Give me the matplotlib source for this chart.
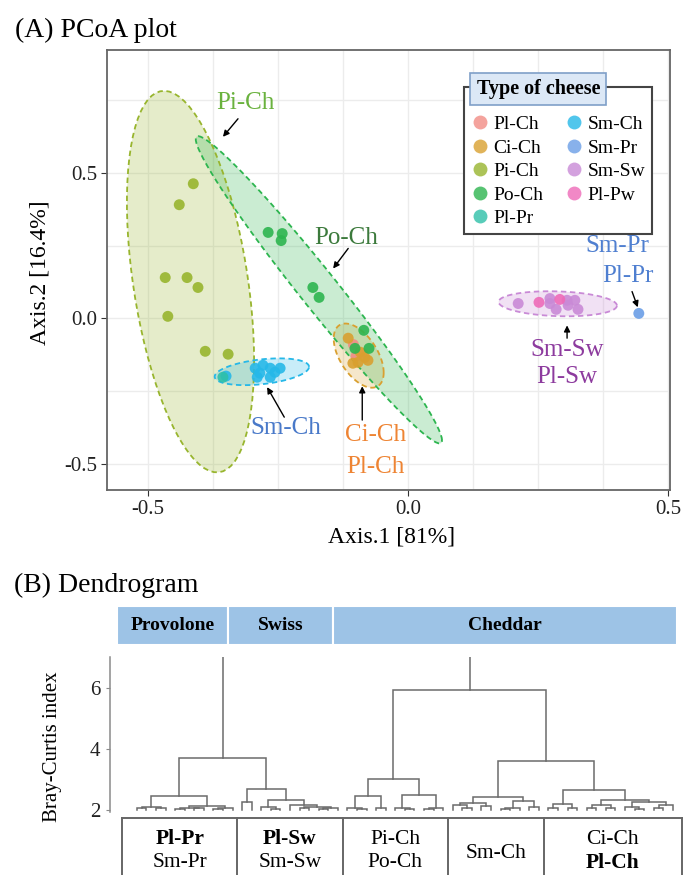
import numpy as np
import matplotlib.pyplot as plt
from matplotlib.lines import Line2D
from matplotlib.patches import Rectangle

plt.rcParams['font.family'] = ['Liberation Serif', 'DejaVu Serif']
plt.rcParams['axes.unicode_minus'] = False

# ---------------- (A) PCoA data ----------------
groups = ['Pl-Ch', 'Ci-Ch', 'Pi-Ch', 'Po-Ch', 'Pl-Pr', 'Sm-Ch', 'Sm-Pr', 'Sm-Sw', 'Pl-Pw']
colors = ['#F28C85', '#D9A030', '#98B52E', '#2DB54F', '#2EC0A8', '#26B8E8', '#6A9EE6', '#C98AD6', '#EE6AB8']

pl_ch_x = [-0.100, -0.088, -0.105]
pl_ch_y = [-0.130, -0.120, -0.090]
ci_ch_x = [-0.115, -0.092, -0.083, -0.106, -0.077, -0.096]
ci_ch_y = [-0.068, -0.116, -0.134, -0.154, -0.144, -0.151]
pi_ch_x = [-0.413, -0.440, -0.467, -0.425, -0.404, -0.462, -0.390, -0.346]
pi_ch_y = [0.462, 0.390, 0.140, 0.140, 0.106, 0.007, -0.113, -0.123]
po_ch_x = [-0.269, -0.242, -0.244, -0.183, -0.171, -0.085, -0.102, -0.075]
po_ch_y = [0.295, 0.291, 0.267, 0.106, 0.072, -0.041, -0.103, -0.103]
pl_pr_x = [-0.356]
pl_pr_y = [-0.202]
sm_ch_x = [-0.294, -0.290, -0.279, -0.265, -0.265, -0.246, -0.256, -0.285, -0.350]
sm_ch_y = [-0.171, -0.202, -0.161, -0.171, -0.202, -0.171, -0.185, -0.188, -0.198]
sm_pr_x = [0.444]
sm_pr_y = [0.017]
sm_sw_x = [0.212, 0.273, 0.306, 0.321, 0.285, 0.308, 0.327, 0.273]
sm_sw_y = [0.051, 0.068, 0.062, 0.062, 0.031, 0.045, 0.031, 0.051]
pl_pw_x = [0.252, 0.292]
pl_pw_y = [0.055, 0.065]

points = {
    'Pl-Ch': (pl_ch_x, pl_ch_y), 'Ci-Ch': (ci_ch_x, ci_ch_y), 'Pi-Ch': (pi_ch_x, pi_ch_y),
    'Po-Ch': (po_ch_x, po_ch_y), 'Pl-Pr': (pl_pr_x, pl_pr_y), 'Sm-Ch': (sm_ch_x, sm_ch_y),
    'Sm-Pr': (sm_pr_x, sm_pr_y), 'Sm-Sw': (sm_sw_x, sm_sw_y), 'Pl-Pw': (pl_pw_x, pl_pw_y),
}
draw_order = ['Pl-Ch', 'Ci-Ch', 'Pi-Ch', 'Po-Ch', 'Sm-Ch', 'Pl-Pr', 'Sm-Pr', 'Sm-Sw', 'Pl-Pw']


def ellipse(x, y, level=0.95, segments=80):
    # same idea as ggplot stat_ellipse(type = "norm")
    pts = np.column_stack([x, y])
    n = len(pts)
    center = pts.mean(axis=0)
    shape = np.cov(pts, rowvar=False)
    d2 = n - 1
    fq = d2 / 2 * ((1 - level) ** (-2 / d2) - 1)   # F(level; 2, n-1)
    radius = np.sqrt(2 * fq)
    t = np.linspace(0, 2 * np.pi, segments)
    circle = np.column_stack([np.cos(t), np.sin(t)])
    chol = np.linalg.cholesky(shape).T
    return center + radius * circle @ chol


# ---------------- (B) dendrogram data ----------------
o = None  # a leaf
provolone = (2.46,
             (2.10, (2.05, o, o), (2.07, o, o)),
             (2.14, (2.06, (2.04, o, o), (2.05, o, o)), (2.08, (2.03, o, o), o)))
swiss = (2.69,
         (2.26, o, o),
         (2.33, (2.10, o, (2.04, o, o)), (2.15, o, (2.10, (2.05, o, o), (2.06, (2.03, o, o), o)))))
pi_po = (3.02,
         (2.46, (2.06, o, (2.03, o, o)), (2.07, o, o)),
         (2.49, (2.05, o, (2.03, o, o)), (2.06, (2.04, o, o), o)))
sm_ch = (2.43,
         (2.22, (2.16, o, (2.08, o, o)), (2.12, o, o)),
         (2.28, (2.05, (2.03, o, o), o), (2.10, o, o)))
ci_pl = (2.66,
         (2.20, (2.06, o, o), (2.08, o, o)),
         (2.33, (2.15, (2.05, o, o), (2.08, o, o)),
          (2.25, (2.10, o, (2.04, o, o)), (2.15, (2.05, o, o), o))))
tree = (9.0, (3.70, provolone, swiss), (5.93, pi_po, (3.61, sm_ch, ci_pl)))

strip_labels = ['Provolone', 'Swiss', 'Cheddar']
strip_members = [[provolone], [swiss], [pi_po, sm_ch, ci_pl]]
box_members = [provolone, swiss, pi_po, sm_ch, ci_pl]
box_labels = [['Pl-Pr', 'Sm-Pr'], ['Pl-Sw', 'Sm-Sw'], ['Pi-Ch', 'Po-Ch'], ['Sm-Ch'], ['Ci-Ch', 'Pl-Ch']]
bold_labels = ['Pl-Pr', 'Pl-Sw', 'Pl-Ch']


def n_leaves(node):
    if node is None:
        return 1
    return n_leaves(node[1]) + n_leaves(node[2])


def draw_tree(ax, node, counter, leaf_h=2.0):
    if node is None:
        x = counter[0]
        counter[0] += 1
        return x, leaf_h
    h, left, right = node
    xl, hl = draw_tree(ax, left, counter)
    xr, hr = draw_tree(ax, right, counter)
    ax.plot([xl, xl, xr, xr], [hl, h, h, hr], color='#6b6b6b', lw=1.1, solid_joinstyle='miter')
    return (xl + xr) / 2, h


W, H = 683, 875
fig = plt.figure(figsize=(W / 100, H / 100), dpi=100)

# ================= Panel A =================
ax = fig.add_axes([107 / W, (H - 490) / H, 563 / W, 440 / H])
ax.set_xlim(-0.579, 0.504)
ax.set_ylim(-0.589, 0.921)
ax.set_xticks([-0.5, 0.0, 0.5])
ax.set_xticklabels(['-0.5', '0.0', '0.5'])
ax.set_yticks([-0.5, 0.0, 0.5])
ax.set_yticklabels(['-0.5', '0.0', '0.5'])
ax.set_xticks(np.arange(-0.375, 0.5, 0.125), minor=True)
ax.set_yticks([-0.25, 0.25, 0.75], minor=True)
ax.grid(which='both', color='#ECECEC', lw=1.0, zorder=0)
ax.set_axisbelow(True)
ax.tick_params(which='minor', length=0)
ax.tick_params(which='major', length=4, color='#333333', labelsize=15, labelcolor='#222222', pad=3)
for s in ax.spines.values():
    s.set_color('#666666')
    s.set_linewidth(1.3)

for g, c in zip(groups, colors):
    x, y = points[g]
    if len(x) >= 4:
        e = ellipse(x, y)
        ax.fill(e[:, 0], e[:, 1], facecolor=c, alpha=0.25, edgecolor='none', zorder=1)
        ax.plot(e[:, 0], e[:, 1], color=c, lw=1.3, ls=(0, (3, 2)), zorder=2)

for g in draw_order:
    x, y = points[g]
    ax.scatter(x, y, s=62, color=colors[groups.index(g)], alpha=0.9, edgecolors='none', zorder=3)

arrow = dict(arrowstyle='-|>', color='black', lw=1.0, mutation_scale=9, shrinkA=0, shrinkB=0)
ax.text(-0.313, 0.740, 'Pi-Ch', color='#6AB23E', fontsize=18, ha='center', va='center')
ax.annotate('', xy=(-0.356, 0.623), xytext=(-0.327, 0.685), arrowprops=arrow)
ax.text(-0.119, 0.277, 'Po-Ch', color='#3C7A3C', fontsize=18, ha='center', va='center')
ax.annotate('', xy=(-0.144, 0.171), xytext=(-0.115, 0.240), arrowprops=arrow)
ax.text(-0.235, -0.377, 'Sm-Ch', color='#4979C9', fontsize=18, ha='center', va='center')
ax.annotate('', xy=(-0.271, -0.236), xytext=(-0.238, -0.339), arrowprops=arrow)
ax.text(-0.062, -0.401, 'Ci-Ch', color='#EE8433', fontsize=18, ha='center', va='center')
ax.text(-0.062, -0.510, 'Pl-Ch', color='#EE8433', fontsize=18, ha='center', va='center')
ax.annotate('', xy=(-0.088, -0.233), xytext=(-0.088, -0.349), arrowprops=arrow)
ax.text(0.306, -0.110, 'Sm-Sw', color='#8D3B9E', fontsize=18, ha='center', va='center')
ax.text(0.306, -0.202, 'Pl-Sw', color='#8D3B9E', fontsize=18, ha='center', va='center')
ax.annotate('', xy=(0.306, -0.024), xytext=(0.306, -0.068), arrowprops=arrow)
ax.text(0.402, 0.250, 'Sm-Pr', color='#4F7FD0', fontsize=18, ha='center', va='center')
ax.text(0.423, 0.147, 'Pl-Pr', color='#4F7FD0', fontsize=18, ha='center', va='center')
ax.annotate('', xy=(0.442, 0.038), xytext=(0.431, 0.092), arrowprops=arrow)

handles = [Line2D([], [], marker='o', ls='none', markersize=10, color=c, alpha=0.8, markeredgecolor='none')
           for c in colors]
leg = ax.legend(handles, groups, ncol=2, loc='upper left', bbox_to_anchor=(0.616, 0.938),
                fancybox=False, framealpha=1, edgecolor='#444444', fontsize=14,
                title=' ', title_fontsize=12, borderpad=0.35, labelspacing=0.3,
                handletextpad=0.2, columnspacing=1.05, handlelength=1.0)
leg.get_frame().set_linewidth(1.5)
ax.text(0.766, 0.911, 'Type of cheese', transform=ax.transAxes, fontsize=14.5, weight='bold',
        ha='center', va='center', zorder=10,
        bbox=dict(boxstyle='square,pad=0.3', fc='#DCE8F6', ec='#7F9FC8', lw=1.2))

fig.text(15 / W, 1 - 30 / H, '(A) PCoA plot', fontsize=20, va='center', ha='left')
fig.text(392 / W, 1 - 537 / H, 'Axis.1 [81%]', fontsize=17, ha='center', va='center')
fig.text(40 / W, 1 - 273 / H, 'Axis.2 [16.4%]', fontsize=17, ha='center', va='center', rotation=90)

# ================= Panel B =================
N = n_leaves(tree)
bx = fig.add_axes([110 / W, (H - 812) / H, 572 / W, 155 / H])
bx.set_xlim(-2.8, N - 0.05)
bx.set_ylim(1.935, 7.0)
draw_tree(bx, tree, [0])
for side in ['top', 'right', 'bottom']:
    bx.spines[side].set_visible(False)
bx.spines['left'].set_color('#8a8a8a')
bx.spines['left'].set_linewidth(1.1)
bx.spines['left'].set_bounds(1.95, 7.0)
bx.set_xticks([])
bx.set_yticks([2, 4, 6])
bx.tick_params(axis='y', length=3, color='#8a8a8a', labelsize=15, labelcolor='#222222', pad=4)

# group ranges in leaf units
starts, ends = [], []
pos = 0
for m in box_members:
    k = n_leaves(m)
    starts.append(pos)
    ends.append(pos + k - 1)
    pos += k

# strips on top
strip_edges = [-2.1]
pos = 0
for mem in strip_members[:-1]:
    pos += sum(n_leaves(m) for m in mem)
    strip_edges.append(pos - 1.5)
strip_edges.append(N - 0.6)
for lab, a, b in zip(strip_labels, strip_edges[:-1], strip_edges[1:]):
    bx.add_patch(Rectangle((a, 7.39), b - a, 1.28, facecolor='#9DC3E6', edgecolor='white',
                           lw=1.5, clip_on=False))
    bx.text((a + b) / 2, 8.03, lab, fontsize=14, weight='bold', ha='center', va='center')

# label boxes at the bottom
bounds = [-1.5] + [(e + s) / 2 for e, s in zip(ends[:-1], starts[1:])] + [N - 0.05]
bx.plot([bounds[0], bounds[-1]], [1.74, 1.74], color='#666666', lw=1.4, clip_on=False)
for b in bounds:
    bx.plot([b, b], [1.74, -1.0], color='#666666', lw=1.4, clip_on=False)
for labs, a, b in zip(box_labels, bounds[:-1], bounds[1:]):
    ys = [1.05, 0.27] if len(labs) == 2 else [0.59]
    for lab, yy in zip(labs, ys):
        bx.text((a + b) / 2, yy, lab, fontsize=15.5, ha='center', va='center', clip_on=False,
                weight='bold' if lab in bold_labels else 'normal')

fig.text(14 / W, 1 - 585 / H, '(B) Dendrogram', fontsize=20, va='center', ha='left')
fig.text(53 / W, 1 - 747 / H, 'Bray-Curtis index', fontsize=15, ha='center', va='center', rotation=90)

fig.savefig('out.png', dpi=100)
